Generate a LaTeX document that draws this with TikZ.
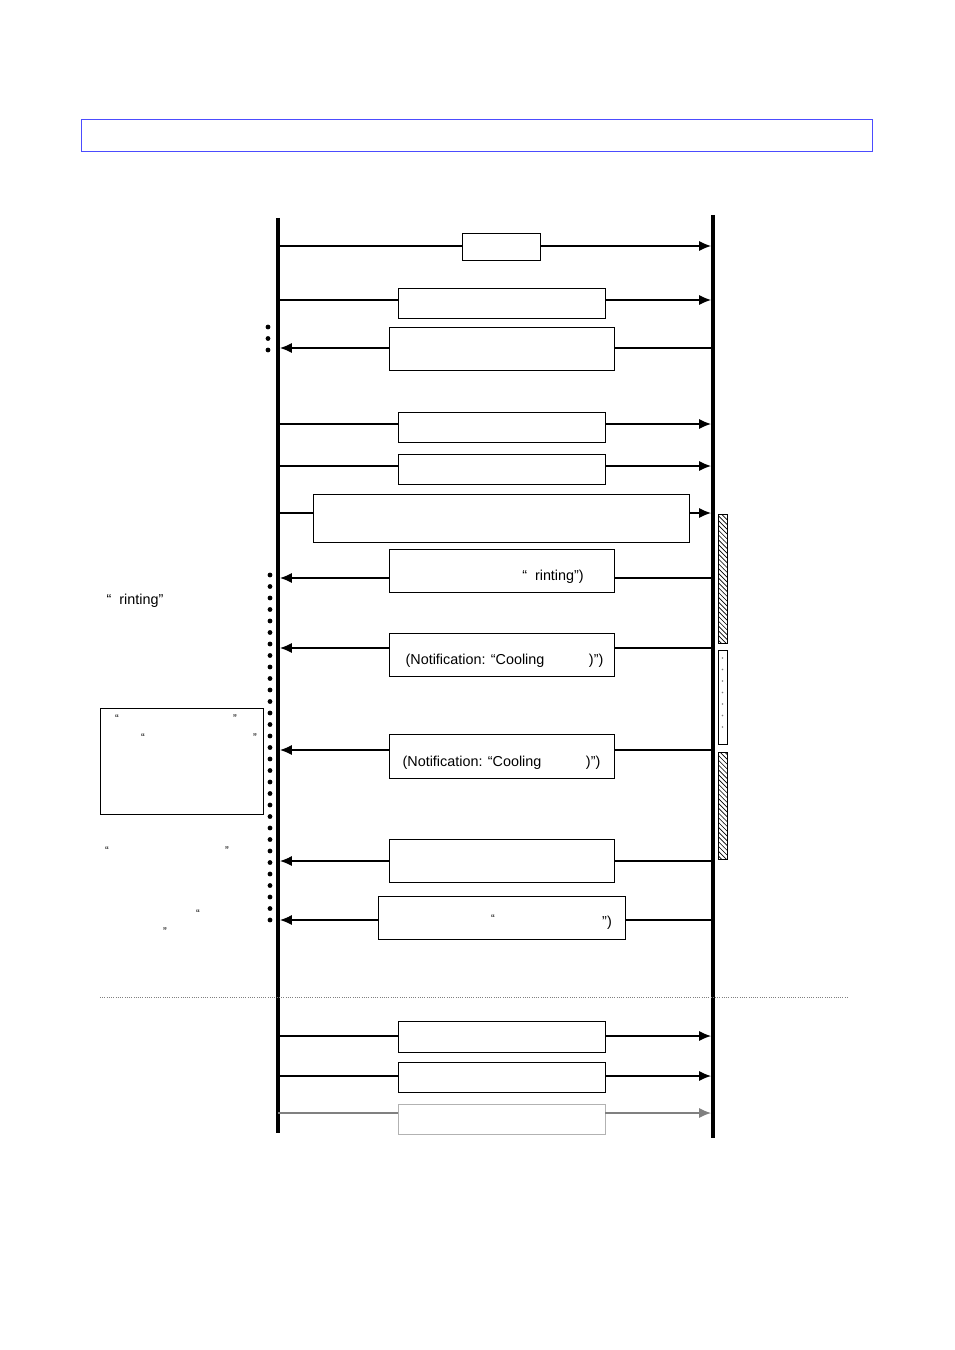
\documentclass[tikz,border=0pt]{standalone}
\usepackage{fontspec}
\setmainfont{Liberation Sans}
\usetikzlibrary{positioning, arrows.meta, fit, patterns}
\begin{document}
\begin{tikzpicture}[x=0.022cm, y=-0.022cm, font=\small,
	msgbox/.style={draw, rectangle, inner sep=0pt},
	msg/.style={-{Latex[length=2.6mm, width=2.2mm]}, line width=0.7pt},
	dotcol/.style={line width=3pt, line cap=round, dash pattern=on 0pt off 7.2pt}]
			
			\useasboundingbox (0,0) rectangle (954,1350);
			
			%Title bar
			\node (Title) [draw=blue!70, rectangle, inner sep=0pt, fit={(81,119) (872,151)}] {};
			
			%Lifelines
			\draw[line width=2pt] (278,218) coordinate (HostTop) -- (278,1133) coordinate (HostBot);
			\draw[line width=2.6pt] (713,215) coordinate (DevTop) -- (713,1138) coordinate (DevBot);
			
			%Blocks
			\node (MsgA) [msgbox, fit={(462,233) (540,260)}] {};
			\node (MsgB) [msgbox, fit={(398,288) (605,318)}] {};
			\node (MsgC) [msgbox, fit={(389,327) (614,370)}] {};
			\node (MsgD) [msgbox, fit={(398,412) (605,442)}] {};
			\node (MsgE) [msgbox, fit={(398,454) (605,484)}] {};
			\node (MsgF) [msgbox, fit={(313,494) (689,542)}] {};
			\node (MsgG) [msgbox, fit={(389,549) (614,592)}] {};
			\node (MsgH) [msgbox, fit={(389,633) (614,676)}] {};
			\node (MsgI) [msgbox, fit={(389,734) (614,778)}] {};
			\node (MsgJ) [msgbox, fit={(389,839) (614,882)}] {};
			\node (MsgK) [msgbox, fit={(378,896) (625,939)}] {};
			\node (MsgL) [msgbox, fit={(398,1021) (605,1052)}] {};
			\node (MsgM) [msgbox, fit={(398,1062) (605,1092)}] {};
			\node (MsgN) [msgbox, draw=gray!60, fit={(398,1104) (605,1134)}] {};
			
			%Links to device
			\foreach \m/\y in {MsgA/246, MsgB/300, MsgD/424, MsgE/466, MsgF/513, MsgL/1036, MsgM/1076}{
				\draw[line width=0.7pt] (278,\y) coordinate (h\m) -- (h\m -| \m.west);
				\draw[msg] (\m.east |- h\m) -- (711,\y) coordinate (d\m);
			}
			\draw[gray, line width=0.7pt] (278,1113) coordinate (hMsgN) -- (hMsgN -| MsgN.west);
			\draw[msg, gray] (MsgN.east |- hMsgN) -- (711,1113) coordinate (dMsgN);
			
			%Links to host
			\foreach \m/\y in {MsgC/348, MsgG/578, MsgH/648, MsgI/750, MsgJ/861, MsgK/920}{
				\draw[line width=0.7pt] (713,\y) coordinate (d\m) -- (d\m -| \m.east);
				\draw[msg] (\m.west |- d\m) -- (280,\y) coordinate (h\m);
			}
			
			%Waiting dots
			\draw[dotcol] (268,327) -- (268,355);
			\draw[dotcol] (270,575) -- (270,922);
			
			%Device state bars
			\node (BusyA) [draw, pattern=north west lines, inner sep=0pt, fit={(718,514) (727,643)}] {};
			\node (Idle) [draw, inner sep=0pt, fit={(718,650) (727,744)}] {};
			\draw[dotcol, line width=1pt, gray] (722.5,658) -- (722.5,738);
			\node (BusyB) [draw, pattern=north west lines, inner sep=0pt, fit={(718,752) (727,859)}] {};
			
			%Texts
			\node (LblG) at (553,577) {\char"201C\ \ rinting\char"201D)};
			\node (LblH) [anchor=west] at (400,661) {(Notification: {\char"201C}Cooling\hspace{3.1em})\char"201D)};
			\node (LblI) [anchor=west] at (397,763) {(Notification: {\char"201C}Cooling\hspace{3.1em})\char"201D)};
			\node (LblK1) at (493,919) {\scriptsize\char"201C};
			\node (LblK2) at (607,923) {\char"201D)};
			\node (NoteA) [anchor=west] at (101,601) {\char"201C\ \ rinting\char"201D};
			\node (NoteBox) [draw, inner sep=0pt, fit={(100,708) (263,814)}] {};
			\node at (117,719) {\scriptsize\char"201C};
			\node at (235,719) {\scriptsize\char"201D};
			\node at (143,738) {\scriptsize\char"201C};
			\node at (255,738) {\scriptsize\char"201D};
			\node at (107,851) {\scriptsize\char"201C};
			\node at (227,851) {\scriptsize\char"201D};
			\node at (198,914) {\scriptsize\char"201C};
			\node at (165,932) {\scriptsize\char"201D};
			
			%Separator
			\draw[gray, densely dotted] (100,997) -- (847,997);
			
\end{tikzpicture}
\end{document}
